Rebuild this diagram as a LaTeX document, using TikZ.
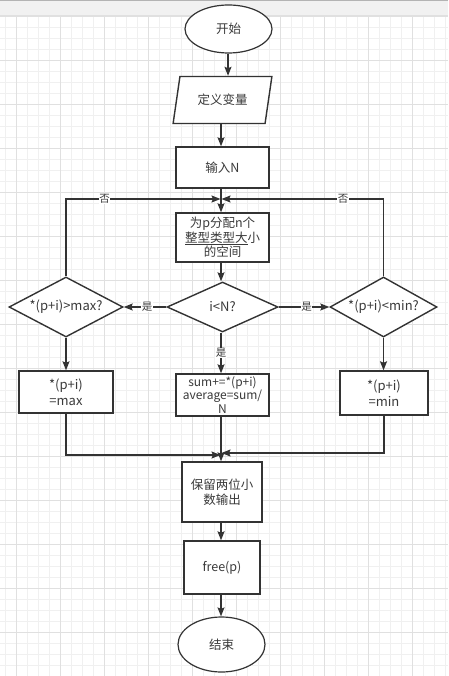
\documentclass[tikz,border=0pt]{standalone}
\usepackage{fontspec}
\setmainfont{Noto Sans CJK SC}
\usetikzlibrary{shapes.geometric,arrows.meta}
\definecolor{ink}{HTML}{333333}
\definecolor{txt}{HTML}{3A3A3A}
\definecolor{gridminor}{HTML}{F0F0F0}
\definecolor{gridmajor}{HTML}{E0E0E0}
\definecolor{band}{HTML}{F1F1F1}
\tikzset{
  box/.style={draw=ink, line width=1.4pt, fill=white, rectangle, inner sep=0pt, align=center, text=txt, font=\fontsize{12.5}{14.5}\selectfont},
  term/.style={draw=ink, line width=1.2pt, fill=white, ellipse, inner sep=0pt, text=txt, font=\fontsize{12.5}{14}\selectfont},
  dia/.style={draw=ink, line width=1.4pt, fill=white, diamond, inner sep=0pt, text=txt, font=\fontsize{13}{14}\selectfont},
  para/.style={draw=ink, line width=1.4pt, fill=white, trapezium, trapezium left angle=71, trapezium right angle=109, trapezium stretches=true, inner sep=0pt, text=txt, font=\fontsize{12.5}{14}\selectfont},
  conn/.style={draw=ink, line width=1.4pt, -{Stealth[length=9pt,width=7pt,inset=1.5pt]}},
  lab/.style={fill=white, inner sep=0.5pt, text=txt, font=\fontsize{10.5}{11}\selectfont},
}
\begin{document}
\begin{tikzpicture}[x=1pt,y=-1pt]
\useasboundingbox (0,0) rectangle (448,676);
\fill[white] (0,0) rectangle (448,676);
% grid
\foreach \i in {0,...,40} {
  \draw[gridminor, line width=0.8pt] ({5.7+11*\i},16) -- ({5.7+11*\i},676);
}
\foreach \i in {0,...,60} {
  \draw[gridminor, line width=0.8pt] (0,{16.7+11*\i}) -- (448,{16.7+11*\i});
}
\foreach \i in {0,...,10} {
  \draw[gridmajor, line width=0.8pt] ({16.7+44*\i},16) -- ({16.7+44*\i},676);
}
\foreach \i in {0,...,15} {
  \draw[gridmajor, line width=0.8pt] (0,{16.7+44*\i}) -- (448,{16.7+44*\i});
}
% top band
\fill[band] (0,0) rectangle (448,16);
\draw[gridmajor, line width=1pt] (0,16) -- (448,16);
\draw[gridmajor!80!black, line width=1pt] (0,0.5) -- (448,0.5);

% nodes
\node[term, minimum width=87pt, minimum height=48pt] (start) at (228.5,29) {开始};
\node[para, minimum width=99pt, minimum height=47pt] (def) at (222.5,100) {定义变量};
\node[box, minimum width=93pt, minimum height=41pt] (input) at (222.5,167.5) {输入N};
\node[box, minimum width=93pt, minimum height=49pt] (alloc) at (222.5,237.5) {为p分配n个\\\underline{整型类型大}小\\的空间};
\node[dia, minimum width=111pt, minimum height=50pt, aspect=2.2] (cond) at (222.5,307) {i<N?};
\node[dia, minimum width=114pt, minimum height=60pt, aspect=1.9] (maxq) at (66,307) {*(p+i)>max?};
\node[dia, minimum width=107pt, minimum height=60pt, aspect=1.78] (minq) at (383.5,307) {*(p+i)<min?};
\node[box, minimum width=94pt, minimum height=42pt, font=\fontsize{13}{16}\selectfont] (setmax) at (66,392) {*(p+i)\\=max};
\node[box, minimum width=93pt, minimum height=42pt, font=\fontsize{12}{13.5}\selectfont] (sum) at (222.5,395) {sum+=*(p+i)\\average=sum/\\N};
\node[box, minimum width=88pt, minimum height=44pt, font=\fontsize{13}{16}\selectfont] (setmin) at (384,393) {*(p+i)\\=min};
\node[box, minimum width=80pt, minimum height=60pt] (out) at (222,492) {保留两位小\\数输出};
\node[box, minimum width=76pt, minimum height=53pt] (free) at (222,567.5) {free(p)};
\node[term, minimum width=87pt, minimum height=55pt] (end) at (221.5,644.5) {结束};

\coordinate (j1) at (221,199);
\coordinate (j2) at (221,455);
\coordinate (lt) at (66,199);
\coordinate (rt) at (383.5,199);
\coordinate (lb) at (66,455);
\coordinate (rb) at (384,453);

% connectors
\draw[conn] (start.south -| 228,0) -- (def.north -| 228,0);
\draw[conn] (def.south -| 221,0) -- (input.north -| 221,0);
\draw[conn] (input.south -| j1) -- (alloc.north -| j1);
\draw[conn] (alloc.south -| j1) -- (cond.north -| j1);
\draw[conn] (cond.west) -- node[lab, pos=0.45] {是} (maxq.east);
\draw[conn] (cond.east) -- node[lab, pos=0.55] {是} (minq.west);
\draw[conn] (cond.south -| j1) -- node[lab, pos=0.5] {是} (sum.north -| j1);
\draw[conn] (maxq.north) -- (lt) -- node[lab, pos=0.25] {否} ([xshift=-0.5pt]j1);
\draw[conn] (minq.north) -- (rt) -- node[lab, pos=0.25] {否} ([xshift=0.5pt]j1);
\draw[conn] (maxq.south) -- (setmax.north);
\draw[conn] (minq.south) -- (setmin.north -| minq.south);
\draw[conn] (setmax.south) -- (lb) -- ([xshift=-0.5pt]j2);
\draw[conn] (setmin.south) -- (rb) -- ([xshift=0.5pt]j2 |- rb);
\draw[conn] (sum.south -| j2) -- (out.north -| j2);
\draw[conn] (out.south -| j2) -- (free.north -| j2);
\draw[conn] (free.south -| j2) -- (end.north -| j2);
\end{tikzpicture}
\end{document}
